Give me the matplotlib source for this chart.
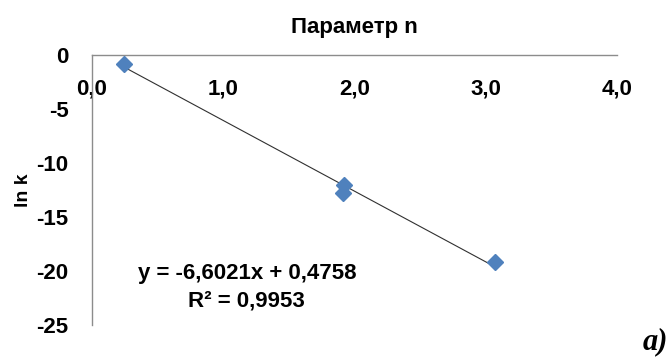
import numpy as np
import matplotlib
matplotlib.use("Agg")
import matplotlib.pyplot as plt

# values
n_param = [0.244, 1.92, 1.91, 3.07]
ln_k = [-0.83, -12.0, -12.8, -19.2]
x_ticks = [0, 1, 2, 3, 4]
x_tick_labels = ["0,0", "1,0", "2,0", "3,0", "4,0"]
y_ticks = [0, -5, -10, -15, -20, -25]
eq_text = "y = -6,6021x + 0,4758\nR² = 0,9953"

plt.rcParams['font.family'] = ['Liberation Sans', 'DejaVu Sans']
plt.rcParams['axes.unicode_minus'] = False

fig = plt.figure(figsize=(6.7, 3.6), dpi=100)
ax = fig.add_axes([92 / 670, 1 - 325 / 360, 525 / 670, 270 / 360])

# trend line over the data range
coef = np.polyfit(n_param, ln_k, 1)
xs = np.array([min(n_param), max(n_param)])
ax.plot(xs, np.polyval(coef, xs), color='#303030', lw=0.8, zorder=2)
ax.plot(n_param, ln_k, 'D', color='#4F81BD', ms=8.5, mec='#4F81BD', zorder=3)

ax.set_xlim(0, 4)
ax.set_ylim(-25, 0)
ax.set_xticks(x_ticks)
ax.set_xticklabels(x_tick_labels)
ax.set_yticks(y_ticks)

for s in ['top', 'right']:
    ax.spines[s].set_visible(False)
ax.spines['bottom'].set_position(('data', 0))
for s in ['bottom', 'left']:
    ax.spines[s].set_color('#8C8C8C')
    ax.spines[s].set_linewidth(1.0)

ax.tick_params(axis='x', length=0, pad=17, labelsize=16)
ax.tick_params(axis='y', length=0, pad=17, labelsize=16)
for lbl in ax.get_xticklabels() + ax.get_yticklabels():
    lbl.set_fontweight('bold')

ax.set_ylabel("ln k", fontsize=14, fontweight='bold', labelpad=3)
ax.set_title("Параметр n", fontsize=16, fontweight='bold', pad=16)

ax.text(1.18, -21.5, eq_text, ha='center', va='center', fontsize=16,
        fontweight='bold', linespacing=1.42)

fig.text(668 / 670, 1 - 342 / 360, "a)", ha='right', va='center', fontsize=22,
         fontweight='bold', fontstyle='italic', family='Liberation Serif')

fig.savefig("out.png", dpi=100)
